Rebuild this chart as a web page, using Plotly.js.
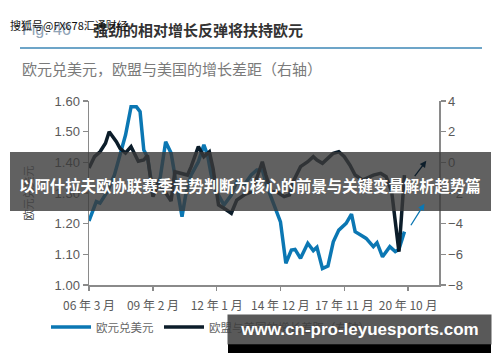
<!DOCTYPE html>
<html><head><meta charset="utf-8">
<script src="https://cdn.plot.ly/plotly-3.0.1.min.js"></script>
<style>html,body{margin:0;padding:0;background:#fff}#chart{width:500px;height:362px}</style>
</head><body><div id="chart"></div>
<script>
// ---- data ----
const blueDates = ['2006-03','2006-07','2006-09','2007-01','2007-05','2007-09','2007-11','2008-02','2008-05','2008-07','2008-09','2008-11','2009-01','2009-03','2009-06','2009-09','2009-12','2010-02','2010-06','2010-08','2010-11','2011-03','2011-06','2011-08','2011-10','2012-01','2012-05','2012-09','2012-12','2013-04','2013-08','2013-11','2014-02','2014-05','2014-08','2014-12','2015-03','2015-06','2015-08','2015-11','2016-03','2016-06','2016-08','2016-11','2017-02','2017-05','2017-08','2017-12','2018-03','2018-05','2018-08','2018-11','2019-03','2019-05','2019-08','2019-12','2020-03','2020-05','2020-08'];
const eurusd = [1.209,1.272,1.267,1.304,1.36,1.446,1.489,1.581,1.581,1.565,1.44,1.418,1.342,1.304,1.349,1.467,1.43,1.359,1.223,1.293,1.359,1.402,1.457,1.424,1.359,1.304,1.261,1.293,1.337,1.326,1.359,1.375,1.375,1.316,1.267,1.206,1.071,1.114,1.116,1.087,1.136,1.112,1.123,1.054,1.062,1.141,1.179,1.201,1.231,1.174,1.163,1.152,1.125,1.138,1.092,1.125,1.109,1.116,1.174];

const gapDates = ['2006-03','2006-06','2006-09','2006-12','2007-02','2007-06','2007-08','2007-11','2008-02','2008-06','2008-09','2008-11','2009-02','2009-05','2009-08','2009-12','2010-02','2010-06','2010-09','2010-11','2011-03','2011-06','2011-09','2011-11','2012-02','2012-05','2012-09','2012-12','2013-04','2013-08','2013-11','2014-02','2014-04','2014-07','2014-10','2015-02','2015-05','2015-07','2015-11','2016-03','2016-06','2016-08','2016-11','2017-03','2017-05','2017-08','2017-11','2018-02','2018-05','2018-09','2019-03','2019-07','2019-10','2020-01','2020-05','2020-08'];
const growthGap = [-0.37,0.37,0.69,1.24,2.0,1.35,0.91,0.61,1.02,0.07,0.15,0.45,-2.24,-1.37,-1.8,-2.52,-0.61,-0.72,-0.83,-0.28,1.03,0.37,0.69,-0.39,-2.78,-3.0,-3.32,-2.46,-2.13,-1.92,-1.02,0.04,-0.83,-1.92,-1.92,-2.24,-2.13,-1.26,-0.28,0.04,0.37,0.15,-0.06,0.37,0.59,0.69,0.37,-0.17,-0.83,-1.15,-0.83,-0.72,-0.94,-1.92,-5.83,-0.83];

const arrowBlueX = ['2020-11','2021-07'];
const arrowBlueY = [1.19, 1.265];
const arrowBlackX = ['2021-01','2021-08'];
const arrowBlackY = [-1.0, 0.1];

const tickDates = ['2006-03-01','2009-02-01','2012-01-01','2014-12-01','2017-11-01','2020-10-01'];
const tickLabels = ['06 年 3 月','09 年 2 月','12 年 1 月','14 年 12 月','17 年 11 月','20 年 10 月'];

const seriesNames = ['欧元兑美元','欧盟与美国的增长差距（右轴）'];

// ---- layout helpers ----
const W=500,H=362,L=89,R=61,T=101,B=77;
const pw=W-L-R, ph=H-T-B;
const px = x => (x-L)/pw;
const py = y => (H-B-y)/ph;
const FONT = 'Liberation Sans, Arial, Noto Sans CJK SC, sans-serif';
const CJK = 'Noto Sans CJK SC, Liberation Sans, sans-serif';
const BLUE = '#0b77b3', DARK = '#0c1d2a';

const traces = [
  {type:'scatter', mode:'lines', x:blueDates, y:eurusd, name:seriesNames[0], yaxis:'y',
   line:{color:BLUE, width:3.5}},
  {type:'scatter', mode:'lines', x:gapDates, y:growthGap, name:seriesNames[1], yaxis:'y2',
   line:{color:DARK, width:3.5}}
];

const axisCommon = {showline:true, linecolor:'#8a8a8a', linewidth:1.5, ticks:'outside', tickcolor:'#8a8a8a', tickwidth:1.5,
  showgrid:false, zeroline:false, fixedrange:true};

const layout = {
  width:W, height:H, margin:{l:L, r:R, t:T, b:B}, paper_bgcolor:'#fff', plot_bgcolor:'#fff',
  font:{family:FONT, color:'#555'},
  showlegend:true,
  legend:{orientation:'h', x:px(46), xanchor:'left', y:py(327), yanchor:'middle', font:{family:CJK, size:11.5, color:'#666'},
          bgcolor:'rgba(0,0,0,0)', itemwidth:40},
  xaxis:Object.assign({}, axisCommon, {type:'date', range:['2006-03-01','2022-03-01'], tickmode:'array', tickvals:tickDates, ticktext:tickLabels,
          ticklen:4, ticklabelstandoff:5, tickfont:{family:CJK, size:12, color:'#5a5a5a'}}),
  yaxis:Object.assign({}, axisCommon, {range:[1.0,1.6], tick0:1.0, dtick:0.1, tickformat:'.2f', ticklen:5,
          tickfont:{size:13, color:'#5a5a5a'},
          title:{text:seriesNames[0], font:{family:CJK, size:11, color:'#444'}, standoff:18}}),
  yaxis2:Object.assign({}, axisCommon, {overlaying:'y', side:'right', range:[-8,4], tick0:-8, dtick:2, ticklen:5,
          tickfont:{size:13, color:'#5a5a5a'}}),
  shapes:[
    {type:'line', xref:'paper', yref:'paper', x0:px(20), x1:px(482), y0:py(48), y1:py(48), line:{color:'#3d87b6', width:1.5}},
    {type:'rect', xref:'paper', yref:'paper', x0:px(10), x1:px(491), y0:py(152), y1:py(211), fillcolor:'rgba(58,58,58,0.8)', line:{width:0}, layer:'above'},
    {type:'rect', xref:'paper', yref:'paper', x0:px(228), x1:px(491), y0:py(344), y1:py(353), fillcolor:'#000', line:{width:0}, layer:'above'}
  ],
  annotations:[
    {xref:'paper', yref:'paper', x:px(20), y:py(30), xanchor:'left', yanchor:'middle', showarrow:false,
     text:'Fig. 46', font:{family:FONT, size:16, color:'#8fa3b6'}},
    {xref:'paper', yref:'paper', x:px(91), y:py(30), xanchor:'left', yanchor:'middle', showarrow:false,
     text:'<b>强劲的相对增长反弹将扶持欧元</b>', font:{family:CJK, size:15, color:'#333'}},
    {xref:'paper', yref:'paper', x:px(8), y:py(25), xanchor:'left', yanchor:'middle', showarrow:false,
     text:'搜狐号@FX678汇通财经', font:{family:CJK, size:11, color:'#111'}},
    {xref:'paper', yref:'paper', x:px(20), y:py(68), xanchor:'left', yanchor:'middle', showarrow:false,
     text:'欧元兑美元，欧盟与美国的增长差距（右轴）', font:{family:CJK, size:15, color:'#7a7a7a'}},
    {xref:'paper', yref:'paper', x:px(250), y:py(185), xanchor:'center', yanchor:'middle', showarrow:false,
     text:'<b>以阿什拉夫欧协联赛季走势判断为核心的前景与关键变量解析趋势篇</b>', font:{family:CJK, size:15.4, color:'#fff'}},
    {xref:'paper', yref:'paper', x:px(359.5), y:py(329.5), xanchor:'center', yanchor:'middle', showarrow:false,
     width:263, height:29, borderpad:0, bgcolor:'rgba(60,60,60,0.85)',
     text:'<b>www.cn-pro-leyuesports.com</b>', font:{family:FONT, size:17, color:'#fff'}},
    {xref:'x', yref:'y', x:arrowBlueX[1], y:arrowBlueY[1], axref:'x', ayref:'y', ax:arrowBlueX[0], ay:arrowBlueY[0],
     showarrow:true, arrowhead:2, arrowsize:1, arrowwidth:1.3, arrowcolor:BLUE, text:''},
    {xref:'x', yref:'y2', x:arrowBlackX[1], y:arrowBlackY[1], axref:'x', ayref:'y2', ax:arrowBlackX[0], ay:arrowBlackY[0],
     showarrow:true, arrowhead:2, arrowsize:1, arrowwidth:1.3, arrowcolor:DARK, text:''}
  ]
};

Plotly.newPlot('chart', traces, layout, {displayModeBar:false, staticPlot:true});
</script></body></html>
